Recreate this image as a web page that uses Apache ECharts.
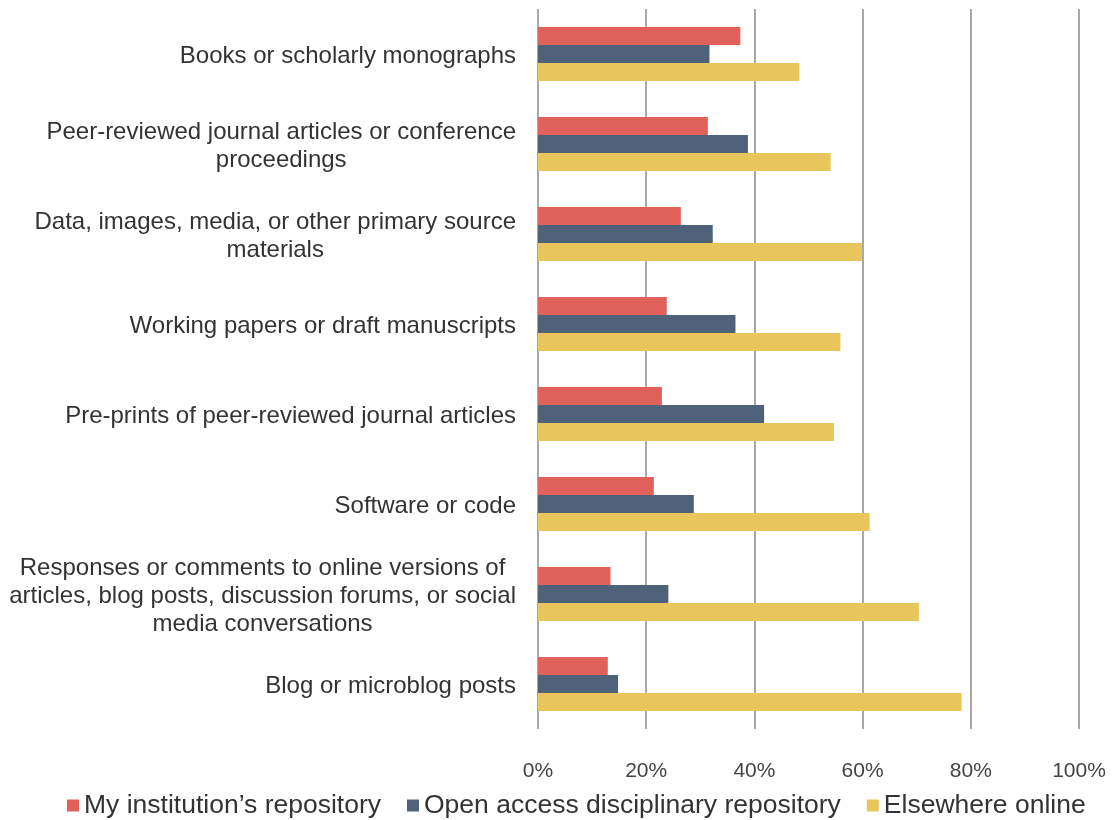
<!DOCTYPE html>
<html>
<head>
<meta charset="utf-8">
<script src="https://cdn.jsdelivr.net/npm/echarts@6/dist/echarts.min.js"></script>
<style>
  html, body { margin: 0; padding: 0; background: #fff; }
  #chart { width: 1112px; height: 820px; }
</style>
</head>
<body>
<div id="chart"></div>
<script>
const categories = [
  'Books or scholarly monographs',
  'Peer-reviewed journal articles or conference\nproceedings',
  'Data, images, media, or other primary source\nmaterials',
  'Working papers or draft manuscripts',
  'Pre-prints of peer-reviewed journal articles',
  'Software or code',
  'Responses or comments to online versions of\narticles, blog posts, discussion forums, or social\nmedia conversations',
  'Blog or microblog posts'
]
const institution = [37.4, 31.4, 26.4, 23.8, 22.9, 21.4, 13.4, 12.9]
const disciplinary = [31.7, 38.8, 32.3, 36.5, 41.8, 28.8, 24.1, 14.8]
const elsewhere = [48.3, 54.1, 59.9, 55.9, 54.7, 61.3, 70.4, 78.3]
const seriesNames = ['My institution\u2019s repository', 'Open access disciplinary repository', 'Elsewhere online']
const colors = ['#e0605a', '#4f627a', '#e8c65c']

const chart = echarts.init(document.getElementById('chart'))

const fontFamily = '"Liberation Sans", Arial, Helvetica, sans-serif'

chart.setOption({
  animation: false,
  color: colors,
  textStyle: { fontFamily },
  grid: {
    left: 538,
    right: 33,
    top: 9,
    bottom: 91
  },
  legend: {
    top: 787,
    left: 62,
    itemWidth: 12,
    itemHeight: 12,
    itemGap: 26,
    icon: 'rect',
    textStyle: { fontSize: 26.5, color: '#333', fontFamily }
  },
  xAxis: {
    type: 'value',
    min: 0,
    max: 100,
    interval: 20,
    axisLine: { show: false },
    axisTick: { show: false },
    axisLabel: {
      formatter: '{value}%',
      fontSize: 21,
      color: '#444',
      margin: 32
    },
    splitLine: { lineStyle: { color: '#8c8c8c', width: 1.5 } }
  },
  yAxis: {
    type: 'category',
    inverse: true,
    data: categories,
    axisLine: { show: false },
    axisTick: { show: false },
    axisLabel: {
      fontSize: 24,
      color: '#333',
      margin: 22,
      lineHeight: 28,
      align: 'right',
      padding: [4, 0, 0, 0],
      formatter: v => v.split('\n').map(l => '{c|' + l + '}').join('\n'),
      rich: {
        c: { align: 'center', fontSize: 24, lineHeight: 28, color: '#333', fontFamily }
      }
    }
  },
  series: [
    { name: seriesNames[0], type: 'bar', data: institution, barGap: '0%', barCategoryGap: '40%' },
    { name: seriesNames[1], type: 'bar', data: disciplinary, barGap: '0%', barCategoryGap: '40%' },
    { name: seriesNames[2], type: 'bar', data: elsewhere, barGap: '0%', barCategoryGap: '40%' }
  ]
})
</script>
</body>
</html>
